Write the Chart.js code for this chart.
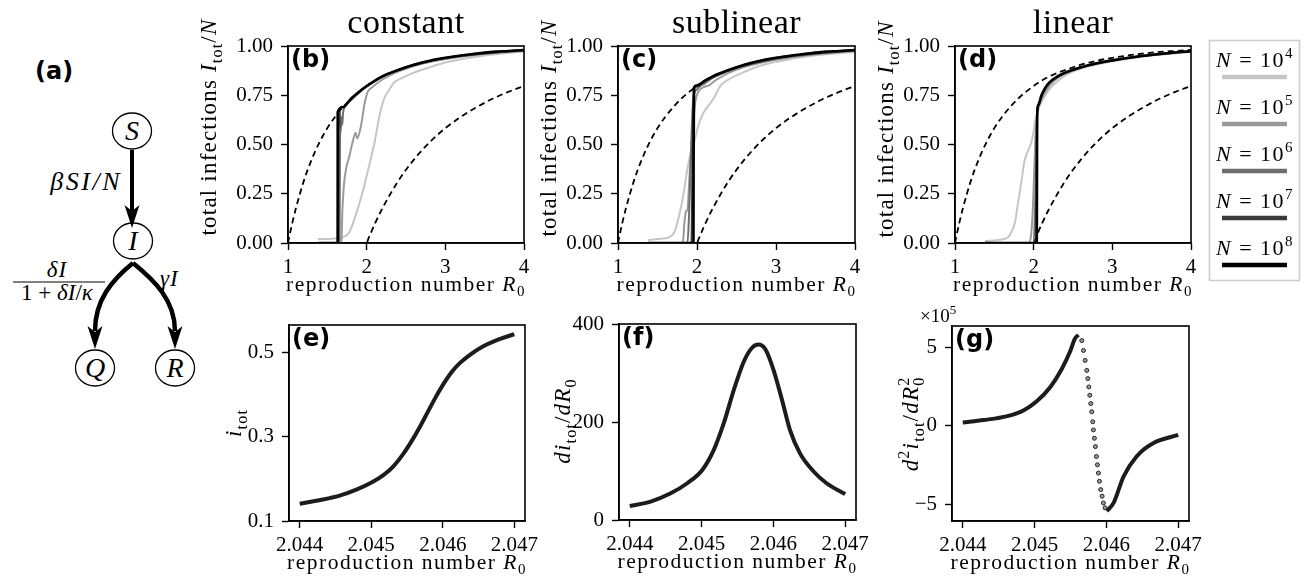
<!DOCTYPE html>
<html>
<head>
<meta charset="utf-8">
<script src="https://cdn.jsdelivr.net/npm/chart.js@4.4.0/dist/chart.umd.min.js"></script>
<style>
  html, body { margin: 0; padding: 0; background: #fff; }
  #fig { position: relative; width: 1314px; height: 583px; overflow: hidden; }
  #fig canvas, #fig svg { position: absolute; left: 0; top: 0; }
  .m { font-family: "Liberation Serif", serif; font-style: italic; }
  .r { font-family: "Liberation Serif", serif; }
</style>
</head>
<body>
<div id="fig">
  <!-- (a) model diagram -->
  <svg width="200" height="583" viewBox="0 0 200 583">
    <text x="35" y="79" font-family="DejaVu Sans" font-weight="bold" font-size="24">(a)</text>
    <ellipse cx="132" cy="131" rx="19.5" ry="18" fill="none" stroke="#000" stroke-width="1.3"/>
    <text class="m" x="132" y="140" text-anchor="middle" font-size="28">S</text>
    <line x1="132" y1="150" x2="132" y2="212" stroke="#000" stroke-width="4"/>
    <path d="M132,228 L124.5,205 L132,211 L139.5,205 Z" fill="#000"/>
    <text class="m" x="122" y="190" text-anchor="end" font-size="26" letter-spacing="2.5">βSI/N</text>
    <ellipse cx="133" cy="241" rx="19.5" ry="18" fill="none" stroke="#000" stroke-width="1.3"/>
    <text class="m" x="133" y="250" text-anchor="middle" font-size="28">I</text>
    <path d="M133,263 C112,280 95,300 95,331" fill="none" stroke="#000" stroke-width="4.5"/>
    <path d="M95,349 L87.5,326 L95,332 L102.5,326 Z" fill="#000"/>
    <path d="M133,263 C154,280 175,300 175,331" fill="none" stroke="#000" stroke-width="4.5"/>
    <path d="M175,349 L167.5,326 L175,332 L182.5,326 Z" fill="#000"/>
    <text class="m" x="57" y="277" text-anchor="middle" font-size="23" letter-spacing="1">δI</text>
    <line x1="13" y1="282" x2="105" y2="282" stroke="#000" stroke-width="1.2"/>
    <text x="57" y="300" text-anchor="middle" font-size="23"><tspan class="r">1 + </tspan><tspan class="m">δI</tspan><tspan class="r">/</tspan><tspan class="m">κ</tspan></text>
    <text class="m" x="160" y="286" font-size="23" letter-spacing="1">γI</text>
    <ellipse cx="95" cy="368" rx="19.5" ry="18" fill="none" stroke="#000" stroke-width="1.3"/>
    <text class="m" x="95" y="377" text-anchor="middle" font-size="28">Q</text>
    <ellipse cx="175" cy="368" rx="19.5" ry="18" fill="none" stroke="#000" stroke-width="1.3"/>
    <text class="m" x="175" y="377" text-anchor="middle" font-size="28">R</text>
  </svg>
  <canvas id="cb" width="1314" height="583"></canvas>
  <canvas id="cc" width="1314" height="583"></canvas>
  <canvas id="cd" width="1314" height="583"></canvas>
  <canvas id="ce" width="1314" height="583"></canvas>
  <canvas id="cf" width="1314" height="583"></canvas>
  <canvas id="cg" width="1314" height="583"></canvas>
</div>
<script>
/* ── data ───────────────────────────────────────────────── */
const sizeExps = ['4', '5', '6', '7', '8'];
const sizeColors = ['#c6c6c6', '#9a9a9a', '#6e6e6e', '#3a3a3a', '#000000'];

// mean-field final sizes (dashed): upper branch and shifted branch
const r0Theory = [1, 1.02, 1.05, 1.1, 1.2, 1.3, 1.4, 1.5, 1.6, 1.7, 1.8, 1.9, 2.0, 2.02, 2.05, 2.1, 2.2, 2.4, 2.6, 2.8, 3.0, 3.2, 3.4, 3.6, 3.8, 4.0];
const upperBranch = [0, 0.039, 0.094, 0.176, 0.314, 0.423, 0.511, 0.583, 0.641, 0.690, 0.732, 0.767, 0.797, 0.803, 0.811, 0.824, 0.846, 0.878, 0.905, 0.925, 0.940, 0.952, 0.962, 0.970, 0.975, 0.980];
const lowerBranch = [0, 0, 0, 0, 0, 0, 0, 0, 0, 0, 0, 0, 0, 0.020, 0.048, 0.094, 0.176, 0.314, 0.423, 0.511, 0.583, 0.641, 0.690, 0.732, 0.767, 0.797];

// (b) constant
const bN4 = [[1.38,0.02],[1.5,0.02],[1.62,0.025],[1.7,0.03],[1.78,0.055],[1.86,0.14],[1.95,0.26],[2.03,0.39],[2.1,0.51],[2.16,0.64],[2.22,0.73],[2.29,0.78],[2.35,0.815],[2.46,0.84],[2.6,0.865],[2.71,0.88],[2.9,0.905],[3.1,0.925],[3.5,0.952],[4,0.972]];
const bN5 = [[1.38,0],[1.68,0],[1.69,0.15],[1.71,0.29],[1.74,0.38],[1.78,0.44],[1.82,0.51],[1.86,0.56],[1.88,0.53],[1.93,0.6],[1.97,0.7],[2.01,0.765],[2.07,0.79],[2.2,0.83],[2.4,0.87],[2.7,0.91],[3.1,0.94],[3.5,0.96],[4,0.976]];
const bN6 = [[1.38,0],[1.655,0],[1.66,0.45],[1.665,0.6],[1.67,0.56],[1.675,0.64],[1.69,0.6],[1.7,0.66],[1.72,0.69],[1.8,0.725],[1.9,0.762],[2.0,0.793],[2.2,0.843],[2.5,0.89],[3,0.937],[3.5,0.962],[4,0.978]];
const bN7 = [[1.38,0],[1.64,0],[1.645,0.6],[1.65,0.67],[1.655,0.58],[1.66,0.68],[1.7,0.69],[1.8,0.73],[1.9,0.766],[2.0,0.796],[2.2,0.845],[2.5,0.892],[3,0.939],[3.5,0.963],[4,0.979]];
const bN8 = [[1.38,0],[1.631,0],[1.632,0.665],[1.7,0.69],[1.8,0.732],[1.9,0.767],[2.0,0.797],[2.2,0.846],[2.4,0.878],[2.6,0.905],[2.8,0.925],[3.0,0.94],[3.2,0.952],[3.4,0.962],[3.6,0.97],[3.8,0.975],[4,0.98]];

// (c) sublinear
const cN4 = [[1.38,0.015],[1.5,0.02],[1.65,0.03],[1.72,0.06],[1.78,0.15],[1.83,0.25],[1.88,0.38],[1.93,0.47],[1.97,0.52],[2.02,0.6],[2.08,0.66],[2.15,0.7],[2.22,0.74],[2.3,0.8],[2.4,0.83],[2.55,0.86],[2.8,0.9],[3.2,0.935],[3.6,0.957],[4,0.97]];
const cN5 = [[1.38,0],[1.82,0],[1.84,0.1],[1.86,0.16],[1.88,0.17],[1.9,0.3],[1.92,0.45],[1.95,0.6],[1.98,0.72],[2.02,0.77],[2.08,0.79],[2.15,0.8],[2.25,0.83],[2.5,0.88],[3,0.93],[3.5,0.958],[4,0.975]];
const cN6 = [[1.38,0],[1.88,0],[1.9,0.15],[1.92,0.4],[1.94,0.65],[1.96,0.75],[2.0,0.78],[2.05,0.8],[2.1,0.81],[2.2,0.838],[2.5,0.887],[3,0.935],[3.5,0.961],[4,0.977]];
const cN7 = [[1.38,0],[1.93,0],[1.94,0.3],[1.95,0.65],[1.96,0.78],[2.0,0.795],[2.1,0.822],[2.2,0.844],[2.5,0.89],[3,0.938],[3.5,0.962],[4,0.979]];
const cN8 = [[1.38,0],[1.955,0],[1.957,0.4],[1.962,0.79],[2.0,0.8],[2.1,0.824],[2.2,0.846],[2.4,0.878],[2.6,0.905],[2.8,0.925],[3.0,0.94],[3.2,0.952],[3.4,0.962],[3.6,0.97],[3.8,0.975],[4,0.98]];

// (d) linear
const dN4 = [[1.38,0.01],[1.55,0.015],[1.68,0.03],[1.72,0.06],[1.76,0.1],[1.8,0.2],[1.84,0.3],[1.88,0.41],[1.93,0.47],[1.97,0.51],[2.0,0.57],[2.03,0.64],[2.08,0.7],[2.15,0.75],[2.22,0.79],[2.3,0.82],[2.4,0.85],[2.6,0.885],[3,0.922],[3.5,0.952],[4,0.971]];
const dN5 = [[1.38,0],[1.94,0],[1.97,0.05],[1.99,0.18],[2.01,0.4],[2.03,0.6],[2.05,0.67],[2.1,0.73],[2.17,0.78],[2.25,0.82],[2.35,0.85],[2.6,0.89],[3,0.925],[3.5,0.953],[4,0.972]];
const dN6 = [[1.38,0],[2.0,0],[2.02,0.2],[2.035,0.5],[2.045,0.66],[2.07,0.71],[2.12,0.76],[2.2,0.812],[2.3,0.843],[2.6,0.89],[3,0.926],[3.5,0.954],[4,0.973]];
const dN7 = [[1.38,0],[2.03,0],[2.038,0.45],[2.045,0.67],[2.06,0.7],[2.1,0.75],[2.2,0.814],[2.3,0.845],[2.6,0.891],[3,0.927],[3.5,0.955],[4,0.974]];
const dN8 = [[1.38,0],[2.04,0],[2.043,0.5],[2.047,0.67],[2.06,0.7],[2.1,0.75],[2.15,0.79],[2.2,0.815],[2.3,0.845],[2.4,0.865],[2.6,0.892],[2.8,0.912],[3.0,0.927],[3.3,0.945],[3.6,0.959],[4,0.974]];

// (e)-(g) zoom near the transition
const eCurve = [[2.044,0.141],[2.04429,0.15],[2.04457,0.161],[2.0448,0.175],[2.04501,0.192],[2.04517,0.209],[2.04531,0.23],[2.04545,0.26],[2.04559,0.297],[2.0457,0.33],[2.04579,0.359],[2.04589,0.391],[2.046,0.423],[2.04612,0.453],[2.04623,0.474],[2.04637,0.494],[2.04656,0.515],[2.04674,0.529],[2.047,0.544]];
const fCurve = [[2.044,28.6],[2.04429,37.5],[2.04457,54.5],[2.0448,75],[2.04501,102],[2.04517,143],[2.04531,198],[2.04545,266],[2.04559,324],[2.0457,351],[2.04579,358],[2.04589,348],[2.046,307],[2.04612,245],[2.04623,184],[2.04637,136],[2.04656,99],[2.04674,75],[2.047,53]];
const gLeft = [[2.044,0.21],[2.04429,0.36],[2.04462,0.61],[2.04485,0.99],[2.04503,1.56],[2.04522,2.47],[2.04538,3.63],[2.0455,4.79],[2.04556,5.53],[2.04561,5.78]];
const gMid = [[2.045657,5.42],[2.045681,4.79],[2.045704,4.16],[2.045727,3.52],[2.045741,3.0],[2.045755,2.47],[2.045769,1.94],[2.045782,1.41],[2.045796,0.89],[2.04581,0.25],[2.045819,-0.27],[2.045833,-0.8],[2.045847,-1.33],[2.045861,-1.96],[2.045875,-2.49],[2.045889,-3.02],[2.045903,-3.54],[2.045921,-4.07],[2.04594,-4.49],[2.045958,-4.92],[2.045981,-5.23]];
const gRight = [[2.046005,-5.44],[2.0461,-4.92],[2.04624,-3.23],[2.04642,-1.96],[2.04665,-1.12],[2.047,-0.59]];

// ticks
const topXTicks = [1, 2, 3, 4];
const topYTicks = [0, 0.25, 0.5, 0.75, 1];
const zoomXTicks = [2.044, 2.045, 2.046, 2.047];
const eYTicks = [0.1, 0.3, 0.5];
const fYTicks = [0, 200, 400];
const gYTicks = [-5, 0, 5];

/* ── layout ─────────────────────────────────────────────── */
const SERIF = '"Liberation Serif", "DejaVu Serif", serif';
const W = 1314, H = 583, YW = 100, XH = 50;
const boxes = {
  cb: { L: 288, R: 524, T: 46, B: 243 },
  cc: { L: 618, R: 855, T: 46, B: 243 },
  cd: { L: 955, R: 1191, T: 46, B: 243 },
  ce: { L: 289, R: 525, T: 325, B: 521 },
  cf: { L: 619, R: 856, T: 324, B: 520 },
  cg: { L: 952, R: 1189, T: 326, B: 521 }
};

const infTitle = [['total infections ', ''], ['I', 'i'], ['tot', 's'], ['/', ''], ['N', 'i']];
const r0Title = [['reproduction number ', ''], ['R', 'i'], ['0', 's']];
const texts = {
  cb: { title: 'constant', tag: '(b)', y: infTitle, yX: 216, yY: 127 },
  cc: { title: 'sublinear', tag: '(c)', y: infTitle, yX: 556, yY: 128 },
  cd: { title: 'linear', tag: '(d)', y: infTitle, yX: 893, yY: 129, legend: true },
  ce: { tag: '(e)', y: [['i', 'i'], ['tot', 's']], yX: 241, yY: 423 },
  cf: { tag: '(f)', y: [['di', 'i'], ['tot', 's'], ['/', ''], ['dR', 'i'], ['0', 's']], yX: 570, yY: 421 },
  cg: { tag: '(g)', y: [['d', 'i'], ['2', 'p'], ['i', 'i'], ['tot', 's'], ['/', ''], ['dR', 'i'], ['2', 'pn'], ['0', 's']], yX: 918, yY: 424,
        offset: [['×10', ''], ['5', 'p']] }
};

// draws mixed italic / sub / superscript text
function rich(ctx, segs, x, y, size, rot, align, spacing) {
  const small = st => st.includes('s') || st.includes('p');
  const fontOf = st => (st.includes('i') ? 'italic ' : '') + (small(st) ? Math.round(size * 0.7) : size) + 'px ' + SERIF;
  ctx.save();
  ctx.letterSpacing = (spacing || 0) + 'px';
  let w = 0;
  for (const [t, st] of segs) { ctx.font = fontOf(st); if (!st.includes('n')) w += ctx.measureText(t).width; }
  ctx.translate(x, y);
  ctx.rotate(rot || 0);
  let cx = align === 'left' ? 0 : align === 'right' ? -w : -w / 2;
  ctx.textAlign = 'left';
  ctx.textBaseline = 'alphabetic';
  ctx.fillStyle = '#000';
  for (const [t, st] of segs) {
    ctx.font = fontOf(st);
    const dy = st.includes('s') ? size * 0.24 : st.includes('p') ? -size * 0.4 : 0;
    ctx.fillText(t, cx, dy);
    if (!st.includes('n')) cx += ctx.measureText(t).width;
  }
  ctx.restore();
}

const panelText = {
  id: 'panelText',
  afterDraw(chart) {
    const o = texts[chart.canvas.id];
    const ctx = chart.ctx, a = chart.chartArea;
    const midX = (a.left + a.right) / 2;
    ctx.save();
    ctx.strokeStyle = '#000';
    ctx.lineWidth = 1.6;
    ctx.strokeRect(a.left, a.top, a.right - a.left, a.bottom - a.top);
    ctx.fillStyle = '#000';
    if (o.title) rich(ctx, [[o.title, '']], midX, 33, 34, 0, 'center', 0.5);
    ctx.font = 'bold 24px "DejaVu Sans"';
    ctx.textAlign = 'left';
    ctx.fillText(o.tag, a.left + 3, a.top + 21);
    rich(ctx, r0Title, midX, a.bottom + 48, 21.5, 0, 'center', 1.5);
    rich(ctx, o.y, o.yX, o.yY, 23, -Math.PI / 2, 'center', 1.2);
    if (o.offset) rich(ctx, o.offset, a.left - 32, a.top - 4, 19, 0, 'left', 0);
    if (o.legend) {
      ctx.strokeStyle = '#cccccc';
      ctx.lineWidth = 1.6;
      ctx.strokeRect(1209.5, 40.5, 90, 240);
      sizeExps.forEach((e, k) => {
        const yb = 67 + 47 * k;
        rich(ctx, [['N', 'i'], [' = 10', ''], [e, 'p']], 1255, yb, 22, 0, 'center', 1.5);
        ctx.strokeStyle = sizeColors[k];
        ctx.lineWidth = 4.5;
        ctx.beginPath();
        ctx.moveTo(1222, yb + 10);
        ctx.lineTo(1287, yb + 10);
        ctx.stroke();
      });
    }
    ctx.restore();
  }
};

function axis(min, max, ticks, fmt, isX) {
  return {
    type: 'linear', min, max,
    afterFit: s => { if (isX) s.height = XH; else s.width = YW; },
    afterBuildTicks: s => { s.ticks = ticks.map(v => ({ value: v })); },
    grid: { display: true, drawOnChartArea: false, drawTicks: true, tickLength: 7, tickWidth: 1.4, tickColor: '#000', color: '#000' },
    border: { display: true, color: '#000', width: 1.6 },
    ticks: { color: '#000', font: { family: SERIF, size: 21 }, padding: isX ? 5 : 8, maxRotation: 0, autoSkip: false, callback: v => fmt(v) }
  };
}

function makePanel(id, datasets, xs, ys) {
  const b = boxes[id];
  new Chart(document.getElementById(id), {
    type: 'line',
    data: { datasets },
    options: {
      responsive: false,
      animation: false,
      events: [],
      layout: { padding: { left: b.L - YW, right: W - b.R, top: b.T, bottom: H - b.B - XH } },
      plugins: { legend: { display: false }, tooltip: { enabled: false } },
      elements: { point: { radius: 0 } },
      scales: { x: xs, y: ys }
    },
    plugins: [panelText]
  });
}

function simSet(pts, k) {
  return { data: pts, borderColor: sizeColors[k], borderWidth: k === 4 ? 2.6 : 2, order: 4 - k, pointRadius: 0, cubicInterpolationMode: 'monotone' };
}
function theorySet(ys) {
  return { data: r0Theory.map((x, i) => [x, ys[i]]), borderColor: '#000', borderWidth: 1.8, borderDash: [6, 4], order: 10, pointRadius: 0, cubicInterpolationMode: 'monotone' };
}
function topPanel(id, series) {
  const sets = series.map((s, k) => simSet(s, k)).concat([theorySet(upperBranch), theorySet(lowerBranch)]);
  makePanel(id, sets,
    axis(1, 4, topXTicks, v => String(v), true),
    axis(0, 1, topYTicks, v => v.toFixed(2), false));
}
const zoomLine = pts => ({ data: pts, borderColor: '#1c1c1c', borderWidth: 4, pointRadius: 0, cubicInterpolationMode: 'monotone' });

topPanel('cb', [bN4, bN5, bN6, bN7, bN8]);
topPanel('cc', [cN4, cN5, cN6, cN7, cN8]);
topPanel('cd', [dN4, dN5, dN6, dN7, dN8]);

const zx = () => axis(2.04385, 2.04715, zoomXTicks, v => v.toFixed(3), true);
makePanel('ce', [zoomLine(eCurve)], zx(), axis(0.1, 0.566, eYTicks, v => v.toFixed(1), false));
makePanel('cf', [zoomLine(fCurve)], zx(), axis(0, 400, fYTicks, v => String(v), false));
makePanel('cg', [
  zoomLine(gLeft),
  zoomLine(gRight),
  { data: gMid, showLine: false, pointRadius: 2, pointBorderWidth: 1, pointBorderColor: '#222', pointBackgroundColor: '#999' }
], zx(), axis(-6.07, 6.35, gYTicks, v => v < 0 ? '\u2212' + (-v) : String(v), false));
</script>
</body>
</html>
